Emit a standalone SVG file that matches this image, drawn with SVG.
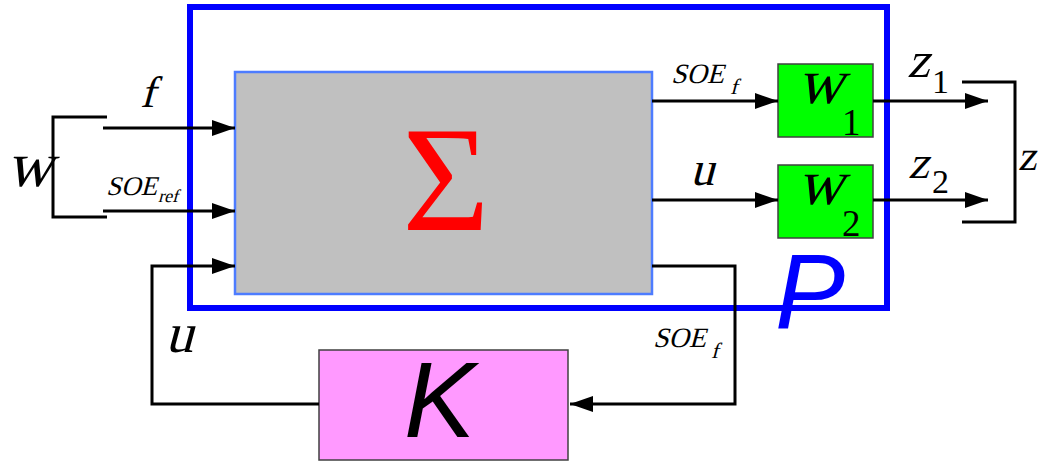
<svg xmlns="http://www.w3.org/2000/svg" width="1047" height="464" viewBox="0 0 1047 464">
<style>
.ln{fill:none;stroke:#000;stroke-width:3;stroke-linejoin:miter}
.ar{fill:none;stroke:#000;stroke-width:3;marker-end:url(#ah)}
.rm{font-family:'Liberation Serif','Times New Roman','DejaVu Serif',serif;font-style:normal;fill:#000}
.ss{font-family:'Liberation Sans',Arial,sans-serif;font-style:italic}
</style>
<defs>
<marker id="ah" markerUnits="userSpaceOnUse" markerWidth="24" markerHeight="17" refX="23" refY="8" orient="auto">
<path d="M0,0 L23,8 L0,16 Z" fill="#000"/>
</marker>
</defs>
<g id="P">
<rect x="190" y="7" width="697" height="301" fill="#fff" stroke="#0000ff" stroke-width="6"/>
<text class="ss" x="775" y="328" font-size="105" fill="#0000ff">P</text>
</g>
<g id="Sigma">
<rect x="235" y="72" width="417" height="222" fill="#c0c0c0" stroke="#4d7cff" stroke-width="2.5"/>
<text class="rm" x="446" y="230" font-size="150" text-anchor="middle" style="fill:#ff0000">Σ</text>
</g>
<g id="W1">
<rect x="778" y="64" width="95" height="73" fill="#00ff00" stroke="#404040" stroke-width="1.5"/>
<text class="rm" transform="translate(797,103) skewX(-15)" font-size="64">w</text>
<text class="rm" x="842" y="135" font-size="37">1</text>
</g>
<g id="W2">
<rect x="778" y="165" width="95" height="73" fill="#00ff00" stroke="#404040" stroke-width="1.5"/>
<text class="rm" transform="translate(797,204) skewX(-15)" font-size="64">w</text>
<text class="rm" x="842" y="236" font-size="37">2</text>
</g>
<g id="K">
<rect x="319" y="350" width="249" height="110" fill="#ff99ff" stroke="#404040" stroke-width="1.5"/>
<text class="ss" x="404" y="437" font-size="107" fill="#000">K</text>
</g>
<g id="connectors">
<path class="ln" d="M107,117 H53 V217 H107"/>
<path class="ar" d="M103,128 H235"/>
<path class="ar" d="M103,211 H235"/>
<path class="ar" d="M652,101 H778"/>
<path class="ar" d="M652,200 H778"/>
<path class="ar" d="M873,101 H988"/>
<path class="ar" d="M873,200 H988"/>
<path class="ln" d="M962,82 H1015 V222 H962"/>
<path class="ar" d="M652,266 H735 V404 H570"/>
<path class="ar" d="M319,404 H152 V266 H235"/>
</g>
<g id="labels">
<text class="rm" transform="translate(6,186) skewX(-15)" font-size="64">w</text>
<text class="rm" transform="translate(140,107) skewX(-15)" font-size="44">f</text>
<text class="rm" transform="translate(106,195) skewX(-15)" font-size="27">SOE</text>
<text class="rm" transform="translate(158,202) skewX(-15)" font-size="18">ref</text>
<text class="rm" transform="translate(671,83) skewX(-15)" font-size="28">SOE</text>
<text class="rm" transform="translate(730,94) skewX(-15)" font-size="22">f</text>
<text class="rm" transform="translate(690,185) skewX(-15)" font-size="48">u</text>
<text class="rm" transform="translate(907,77) skewX(-15)" font-size="50">z</text>
<text class="rm" x="932" y="93" font-size="34">1</text>
<text class="rm" transform="translate(908,178) skewX(-15)" font-size="46">z</text>
<text class="rm" x="932" y="193" font-size="34">2</text>
<text class="rm" transform="translate(1018,170) skewX(-10)" font-size="42">z</text>
<text class="rm" transform="translate(165,352) skewX(-15)" font-size="56">u</text>
<text class="rm" transform="translate(653,347) skewX(-15)" font-size="28">SOE</text>
<text class="rm" transform="translate(711,358) skewX(-15)" font-size="22">f</text>
</g>
</svg>
